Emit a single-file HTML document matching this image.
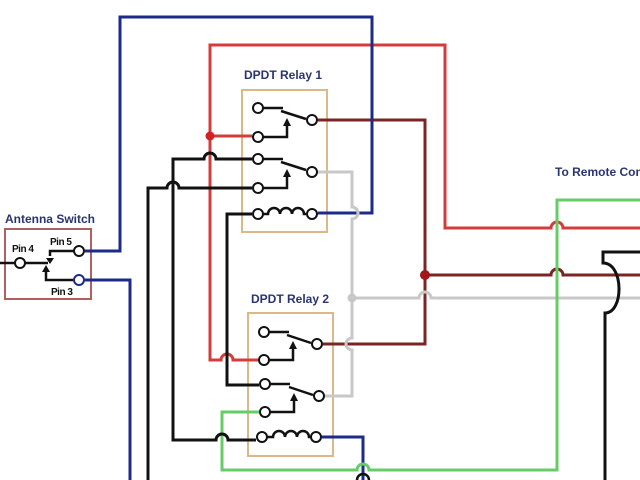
<!DOCTYPE html>
<html><head><meta charset="utf-8"><style>
html,body{margin:0;padding:0;background:#fff;overflow:hidden}
svg{display:block}
text{font-family:"Liberation Sans",sans-serif;font-weight:bold}
</style></head><body>
<svg width="640" height="480" viewBox="0 0 640 480" xmlns="http://www.w3.org/2000/svg">
<g fill="none" stroke-width="3" stroke-linejoin="miter">
<rect x="242" y="90" width="85" height="142" stroke="#dcb887" stroke-width="2"/>
<rect x="248" y="313" width="85" height="143" stroke="#dcb887" stroke-width="2"/>
<rect x="5" y="229" width="86" height="70" stroke="#b06060" stroke-width="2"/>

<path d="M210 357 V45 H445 V228 H551 a6 6 0 0 1 12 0 H640" stroke="#d43c3c"/>
<path d="M210 136 H252" stroke="#d43c3c"/>
<path d="M210 357 V360 H221 a6 6 0 0 1 12 0 H258" stroke="#d43c3c"/>
<path d="M318 120 H425 V344 H323" stroke="#7a2424"/>
<path d="M425 275 H551 a6 6 0 0 1 12 0 H640" stroke="#7a2424"/>
<path d="M85 251 H120 V17 H372 V213 H318" stroke="#1c2a8a"/>
<path d="M85 280 H130 V480" stroke="#1c2a8a"/>
<path d="M322 437 H363 V480" stroke="#1c2a8a"/>
<path d="M318 172 H352 V207 a6 6 0 0 1 0 12 V338 a6 6 0 0 0 0 12 V396 H325" stroke="#c8c8c8"/>
<path d="M352 298 H419 a6 6 0 0 1 12 0 H640" stroke="#c8c8c8"/>
<path d="M259 412 H222 V470 H357 a6 6 0 0 1 12 0 H557 V200 H640" stroke="#66cc66"/>
<path d="M252 159 H216 a6 6 0 0 0 -12 0 H173 V440 H216 a6 6 0 0 1 12 0 H256" stroke="#111"/>
<path d="M252 188 H179 a6 6 0 0 0 -12 0 H148 V480" stroke="#111"/>
<path d="M252 214 H227 V385 H259" stroke="#111"/>
<path d="M640 252 H603 V263 C 624 263, 624 313, 605 313 V480" stroke="#111"/>
<path d="M357 480 a6 6 0 0 1 12 0" stroke="#111" stroke-width="2.5"/>

<g stroke="#111" stroke-width="2.5">
<path d="M263 108 H283 M306 119 L281 111 M263 137 H287 V126"/>
<path d="M263 159 H283 M306 170 L281 162 M263 188 H287 V177"/>
<path d="M262 214 H268 a6 6 0 0 1 12 0 a6 6 0 0 1 12 0 a6 6 0 0 1 12 0 V214 H306"/>
</g>
<path d="M283 126 l4 -8 l4 8z M283 177 l4 -8 l4 8z" fill="#111"/>
<g stroke="#111" stroke-width="2" fill="#fff">
<circle cx="258" cy="108" r="5"/><circle cx="258" cy="137" r="5"/>
<circle cx="258" cy="159" r="5"/><circle cx="258" cy="188" r="5"/>
<circle cx="258" cy="214" r="5"/><circle cx="312" cy="120" r="5"/>
<circle cx="312" cy="172" r="5"/><circle cx="312" cy="214" r="5"/>
</g>
<g stroke="#111" stroke-width="2.5">
<path d="M269 332 H289 M311 343 L287 335 M269 360 H293 V349"/>
<path d="M270 384 H290 M313 395 L289 387 M270 412 H294 V401"/>
<path d="M267 437 H273 a6 6 0 0 1 12 0 a6 6 0 0 1 12 0 a6 6 0 0 1 12 0 V437 H311"/>
</g>
<path d="M289 349 l4 -8 l4 8z M290 401 l4 -8 l4 8z" fill="#111"/>
<g stroke="#111" stroke-width="2" fill="#fff">
<circle cx="264" cy="332" r="5"/><circle cx="264" cy="360" r="5"/>
<circle cx="265" cy="384" r="5"/><circle cx="265" cy="412" r="5"/>
<circle cx="262" cy="437" r="5"/><circle cx="317" cy="344" r="5"/>
<circle cx="319" cy="396" r="5"/><circle cx="316" cy="437" r="5"/>
</g>
<g stroke="#111" stroke-width="2.5">
<path d="M0 263 H15 M25 263 H48 M74 251 H50 V256 M74 280 H46 V272"/>
</g>
<path d="M46 258 l4 6 l4 -6z M42 272 l4 -7 l4 7z" fill="#111"/>
<g stroke="#111" stroke-width="2" fill="#fff">
<circle cx="20" cy="263" r="5"/><circle cx="79" cy="251" r="5"/>
</g>
<circle cx="79" cy="280" r="5" stroke="#1c2a8a" stroke-width="2" fill="#fff"/>
</g>
<circle cx="210" cy="136" r="4.5" fill="#d42020"/>
<circle cx="425" cy="275" r="5" fill="#a01818"/>
<circle cx="352" cy="298" r="4.5" fill="#c8c8c8"/>
<text x="283" y="79" font-size="12" fill="#2a3570" text-anchor="middle">DPDT Relay 1</text>
<text x="290" y="303" font-size="12" fill="#2a3570" text-anchor="middle">DPDT Relay 2</text>
<text x="50" y="223" font-size="12" fill="#2a3570" text-anchor="middle">Antenna Switch</text>
<text x="555" y="176" font-size="12" fill="#2a3570">To Remote Control</text>
<text x="12" y="252" font-size="10" fill="#111" letter-spacing="-0.5">Pin 4</text>
<text x="50" y="245" font-size="10" fill="#111" letter-spacing="-0.5">Pin 5</text>
<text x="51" y="295" font-size="10" fill="#111" letter-spacing="-0.5">Pin 3</text>
</svg>
</body></html>
